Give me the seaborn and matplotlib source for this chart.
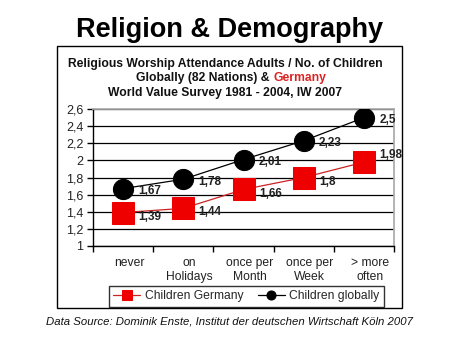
import matplotlib
matplotlib.use("Agg")
import matplotlib.pyplot as plt
import matplotlib.transforms as mtransforms
import seaborn as sns
import pandas as pd
from matplotlib.patches import Rectangle

categories = ["never", "on\nHolidays", "once per\nMonth", "once per\nWeek", "> more\noften"]
germany = [1.39, 1.44, 1.66, 1.8, 1.98]
globally = [1.67, 1.78, 2.01, 2.23, 2.5]
y_ticks = [1, 1.2, 1.4, 1.6, 1.8, 2, 2.2, 2.4, 2.6]

sns.set_theme(style="white")
plt.rcParams['font.family'] = ['Liberation Sans', 'DejaVu Sans']

fig = plt.figure(figsize=(4.6, 3.45), dpi=100)
fig.patch.set_facecolor("white")

# outer box
fig.patches.append(Rectangle((0.124, 0.107), 0.75, 0.759, transform=fig.transFigure,
                             fill=False, edgecolor="black", linewidth=1.0))

ax = fig.add_axes([0.202, 0.287, 0.655, 0.397])
pos = list(range(len(categories)))
df = pd.DataFrame({"pos": pos * 2,
                   "val": germany + globally,
                   "series": ["Children Germany"] * 5 + ["Children globally"] * 5})

sns.lineplot(data=df[df.series == "Children Germany"], x="pos", y="val", ax=ax,
             color="#cc2222", linewidth=0.9, marker="s", markersize=16,
             markerfacecolor="#ee0000", markeredgecolor="#ee0000",
             label="Children Germany", zorder=3)
sns.lineplot(data=df[df.series == "Children globally"], x="pos", y="val", ax=ax,
             color="black", linewidth=0.9, marker="o", markersize=14.5,
             markerfacecolor="black", markeredgecolor="black",
             label="Children globally", zorder=3)

def fmt(v):
    s = f"{v:g}"
    return s.replace(".", ",")

for i, v in enumerate(germany):
    dy = 5 if i == len(germany) - 1 else -3
    ax.annotate(fmt(v), (i, v), xytext=(11, dy), textcoords="offset points",
                ha="left", va="center", fontsize=8.5, fontweight="bold", color="#222222")
for i, v in enumerate(globally):
    ax.annotate(fmt(v), (i, v), xytext=(11, -2), textcoords="offset points",
                ha="left", va="center", fontsize=8.5, fontweight="bold", color="#222222")

ax.set_xlim(-0.5, len(categories) - 0.5)
ax.set_ylim(1, 2.6)
ax.set_yticks(y_ticks)
ax.set_yticklabels([fmt(t) for t in y_ticks], fontsize=9, color="#222222")
ax.set_xticks([p - 0.5 for p in range(len(categories) + 1)])
ax.set_xticklabels([])
ax.set_xticks(pos, minor=True)
ax.set_xticklabels(categories, minor=True, fontsize=8.7, color="#222222", linespacing=1.2)
ax.tick_params(axis="x", which="minor", length=0, pad=8)
ax.tick_params(axis="x", which="major", direction="out", length=4, width=1, color="black", bottom=True)
ax.tick_params(axis="y", direction="out", length=4, width=1, color="black", left=True, pad=3)
shift = mtransforms.ScaledTranslation(6 / 100, 0, fig.dpi_scale_trans)
for lbl in ax.get_xticklabels(minor=True):
    lbl.set_transform(lbl.get_transform() + shift)
ax.grid(axis="y", color="black", linewidth=0.9)
ax.grid(axis="x", visible=False)
ax.set_axisbelow(True)
ax.set_xlabel("")
ax.set_ylabel("")
for s in ["top", "right"]:
    ax.spines[s].set_visible(True)
    ax.spines[s].set_color("#aaaaaa")
for s in ["left", "bottom"]:
    ax.spines[s].set_color("black")
    ax.spines[s].set_linewidth(1)

handles, labels = ax.get_legend_handles_labels()
ax.get_legend().remove()
leg = fig.legend(handles, labels, loc="center", bbox_to_anchor=(0.536, 0.141), ncol=2,
                 frameon=True, fancybox=False, fontsize=8.7, markerscale=0.45,
                 handlelength=2.2, columnspacing=1.2, handletextpad=0.4,
                 borderpad=0.35, edgecolor="black")
leg.get_frame().set_linewidth(1)

fig.text(0.5, 0.913, "Religion & Demography", ha="center", va="center",
         fontsize=19.5, fontweight="bold", color="black")
fig.text(0.49, 0.814, "Religious Worship Attendance Adults / No. of Children",
         ha="center", va="center", fontsize=8.7, fontweight="bold", color="#111111")
fig.text(0.593, 0.774, "Globally (82 Nations) & ", ha="right", va="center",
         fontsize=8.7, fontweight="bold", color="#111111")
fig.text(0.595, 0.774, "Germany", ha="left", va="center",
         fontsize=8.7, fontweight="bold", color="#dd2222")
fig.text(0.49, 0.730, "World Value Survey 1981 - 2004, IW 2007",
         ha="center", va="center", fontsize=8.7, fontweight="bold", color="#111111")
fig.text(0.498, 0.067, "Data Source: Dominik Enste, Institut der deutschen Wirtschaft Köln 2007",
         ha="center", va="center", fontsize=8.2, style="italic", color="#111111")

fig.savefig("out.png", dpi=100, facecolor="white")
